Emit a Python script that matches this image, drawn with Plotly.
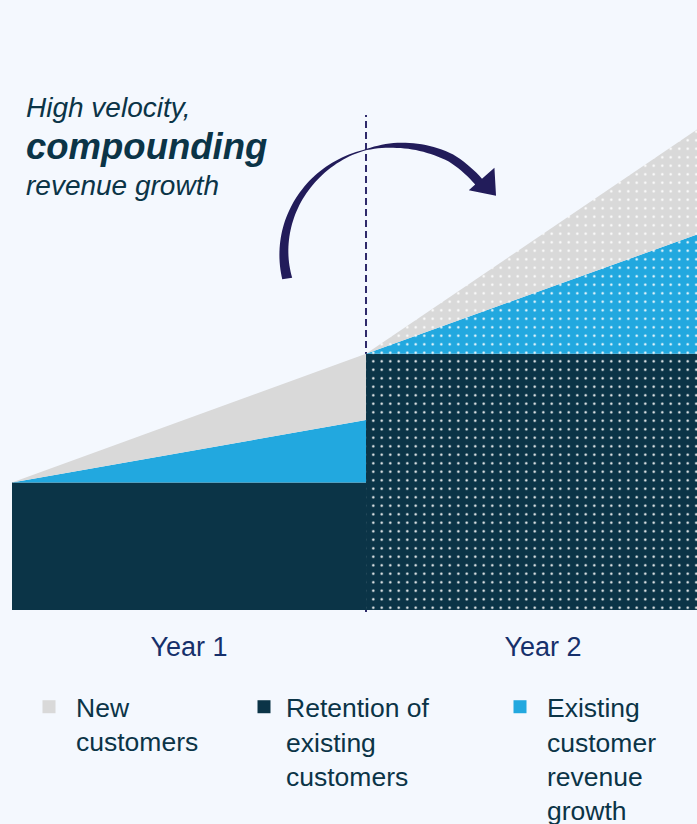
import numpy as np
import plotly.graph_objects as go

# ---------------- data ----------------
year1_x = [0, 1]
year2_x = [1, 2]
retention_y1 = [100, 100]
growth_y1 = [0, 49]
new_y1 = [0, 52]
retention_y2 = [201, 201]
growth_y2 = [0, 100]
new_y2 = [0, 88]
tick_vals = [0.5, 1.5]
tick_text = ["Year 1", "Year 2"]
legend_names = ["New<br>customers", "Retention of<br>existing<br>customers",
                "Existing<br>customer<br>revenue<br>growth"]

# ---------------- style ----------------
BG = "#F4F8FE"
DARK = "#0B3447"
BLUE = "#22A8DF"
GRAY = "#D9D9D9"
NAVY = "#16306B"
ARROW = "#221C5A"
FONT = "Liberation Sans, Arial, sans-serif"

W, H = 697, 824
ML, MR, MT, MB = 12, 0, 0, 214
PW, PH = W - ML - MR, H - MT - MB

def px2paper(px, py):
    return (px - ML) / PW, (H - MB - py) / PH

fig = go.Figure()

def area(x, y, color, group, pattern):
    kw = {}
    if pattern:
        kw["fillpattern"] = dict(shape=".", size=8.5, solidity=0.06,
                                 fgcolor="white", bgcolor=color, fgopacity=1)
    fig.add_trace(go.Scatter(x=x, y=y, mode="lines", stackgroup=group,
                             line=dict(width=0, color=color), fillcolor=color,
                             showlegend=False, hoverinfo="skip", **kw))

area(year1_x, retention_y1, DARK, "y1", False)
area(year1_x, growth_y1, BLUE, "y1", False)
area(year1_x, new_y1, GRAY, "y1", False)
area(year2_x, retention_y2, DARK, "y2", True)
area(year2_x, growth_y2, BLUE, "y2", True)
area(year2_x, new_y2, GRAY, "y2", True)

# legend entries
for name, color, lg in zip(legend_names, [GRAY, DARK, BLUE],
                           ["legend", "legend2", "legend3"]):
    fig.add_trace(go.Scatter(x=[None], y=[None], mode="markers", name=name,
                             marker=dict(symbol="square", size=13, color=color),
                             legend=lg, showlegend=True))

# ---------------- curved arrow ----------------
cx, cy = 385.0, 263.0
th_nodes = [189, 160, 130, 110, 100, 85, 65, 41]
w_nodes = [10, 8, 5, 2, 1, 5, 8, 9]
r_th = [189, 99, 58, 41]
r_val = [99, 115, 124, 124]
th = np.linspace(189, 41, 80)
rm = np.interp(th[::-1], r_th[::-1], r_val[::-1])[::-1]
ww = np.interp(th[::-1], th_nodes[::-1], w_nodes[::-1])[::-1]
rad = np.radians(th)
outer = [(cx + (r + w / 2) * np.cos(a), cy - (r + w / 2) * np.sin(a)) for r, w, a in zip(rm, ww, rad)]
inner = [(cx + (r - w / 2) * np.cos(a), cy - (r - w / 2) * np.sin(a)) for r, w, a in zip(rm, ww, rad)]
ae = np.radians(41)
n = np.array([np.cos(ae), -np.sin(ae)])
t = np.array([np.sin(ae), np.cos(ae)])
pc = np.array([cx, cy]) + 128 * n
b_out = pc + 17 * n
b_in = pc - 17 * n
tip = pc + 22 * t
pts = outer + [tuple(b_out), tuple(tip), tuple(b_in)] + inner[::-1]
path = ""
for i, (px, py) in enumerate(pts):
    xp, yp = px2paper(px, py)
    path += ("M" if i == 0 else "L") + f"{xp:.5f},{yp:.5f}"
path += "Z"
fig.add_shape(type="path", path=path, xref="paper", yref="paper",
              fillcolor=ARROW, line=dict(width=0), layer="above")

# dashed divider
fig.add_shape(type="line", xref="x", yref="paper", x0=1, x1=1,
              y0=px2paper(0, 612)[1], y1=px2paper(0, 115)[1],
              line=dict(color="#2E2A6B", width=2, dash="7px,4px"), layer="below")

# ---------------- title text ----------------
tx = px2paper(24, 0)[0]
fig.add_annotation(text="<i>High velocity,</i>", xref="paper", yref="paper",
                   x=tx, y=px2paper(0, 107)[1], xanchor="left", yanchor="middle",
                   showarrow=False, font=dict(family=FONT, size=28, color=DARK))
fig.add_annotation(text="<b><i>compounding</i></b>", xref="paper", yref="paper",
                   x=tx, y=px2paper(0, 146)[1], xanchor="left", yanchor="middle",
                   showarrow=False, font=dict(family=FONT, size=36.5, color=DARK))
fig.add_annotation(text="<i>revenue growth</i>", xref="paper", yref="paper",
                   x=tx, y=px2paper(0, 185)[1], xanchor="left", yanchor="middle",
                   showarrow=False, font=dict(family=FONT, size=28, color=DARK))

leg_common = dict(xanchor="left", yanchor="top", bgcolor="rgba(0,0,0,0)",
                  valign="top", font=dict(family=FONT, size=26.5, color=DARK),
                  orientation="v", tracegroupgap=0)
fig.update_layout(
    width=W, height=H,
    margin=dict(l=ML, r=MR, t=MT, b=MB, pad=0, autoexpand=False),
    paper_bgcolor=BG, plot_bgcolor=BG,
    xaxis=dict(range=[0, 1.935], showgrid=False, zeroline=False, showline=False,
               tickvals=tick_vals, ticktext=tick_text, ticks="outside", ticklen=13,
               tickcolor="rgba(0,0,0,0)", automargin=False,
               tickfont=dict(family=FONT, size=27, color=NAVY), fixedrange=True),
    yaxis=dict(range=[0, 478.4], visible=False, fixedrange=True, automargin=False),
    legend=dict(x=px2paper(22, 0)[0], y=px2paper(0, 683)[1], itemwidth=44, **leg_common),
    legend2=dict(x=px2paper(242, 0)[0], y=px2paper(0, 683)[1], itemwidth=34, **leg_common),
    legend3=dict(x=px2paper(493, 0)[0], y=px2paper(0, 683)[1], itemwidth=44, **leg_common),
    showlegend=True,
)

fig.write_html("out.html", config={"displayModeBar": False},
               post_script="document.body.style.margin='0';document.body.style.overflow='hidden';document.body.style.background='" + BG + "';")
